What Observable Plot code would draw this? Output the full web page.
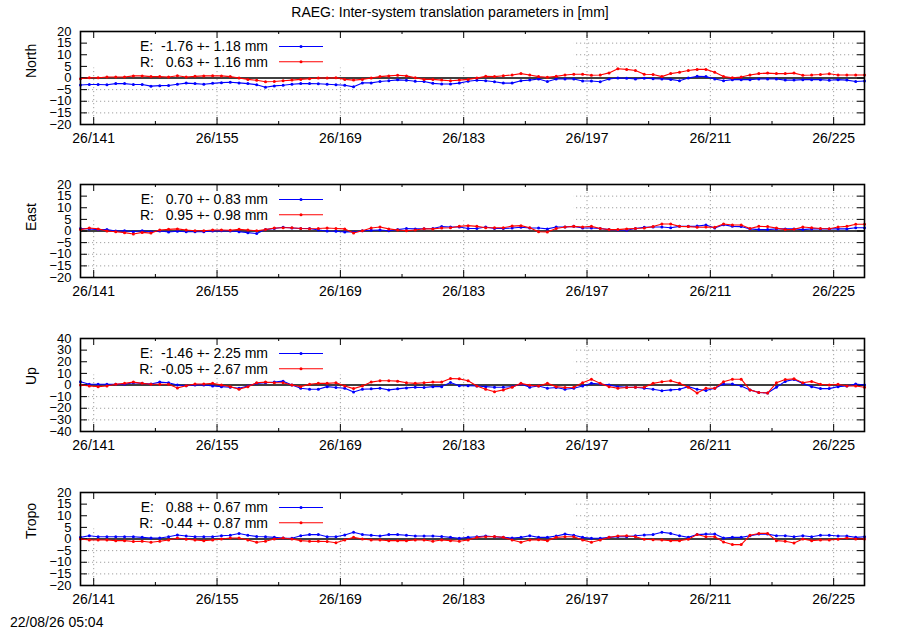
<!DOCTYPE html>
<html><head><meta charset="utf-8">
<script src="https://cdn.jsdelivr.net/npm/d3@7"></script>
<script src="https://cdn.jsdelivr.net/npm/@observablehq/plot@0.6"></script>
<style>
body{margin:0;background:#fff;font-family:"Liberation Sans",Arial,sans-serif;}
#wrap{position:relative;width:900px;height:630px;overflow:hidden;background:#fff;}
#title{position:absolute;top:4px;left:0;width:900px;text-align:center;font-size:14px;line-height:16px;color:#000;}
#foot{position:absolute;left:10px;top:614px;font-size:14px;line-height:16px;color:#000;}
.panel{position:absolute;left:0;}
svg text{white-space:pre;}
svg g[aria-label^="y-axis"]{font-size:13px;}
</style></head><body>
<div id="wrap">
<div id="title">RAEG: Inter-system translation parameters in [mm]</div>
<div id="foot">22/08/26 05:04</div>
</div>
<script>
const startDay = 139.5; // first epoch (day of year 2026, noon)
const xLabelTicks = [141, 155, 169, 183, 197, 211, 225];
const xMinorTicks = [148, 162, 176, 190, 204, 218];
const yTicks20 = [-20, -15, -10, -5, 0, 5, 10, 15, 20];
const yTicks40 = [-40, -30, -20, -10, 0, 10, 20, 30, 40];
const panelLabels = ["North", "East", "Up", "Tropo"];

const northE = [-3.0,-2.8,-2.8,-2.9,-2.4,-2.4,-2.8,-2.8,-3.5,-3.3,-3.2,-2.7,-2.2,-2.4,-2.7,-2.3,-2.0,-1.8,-2.1,-2.4,-2.9,-4.0,-3.4,-3.1,-2.7,-2.4,-2.4,-2.5,-2.7,-2.9,-3.1,-3.8,-2.1,-2.1,-1.5,-1.2,-0.8,-1.0,-1.4,-1.5,-2.3,-2.6,-2.6,-2.2,-1.4,
  -1.0,-1.2,-1.6,-2.2,-2.2,-1.2,-0.9,-0.4,-1.5,-0.4,-0.4,-0.4,-1.3,-1.3,-1.6,-0.4,0.0,-0.1,-0.4,-0.1,-0.3,-0.4,-0.6,-1.2,0.0,0.7,0.6,-0.4,-1.2,-0.7,-0.7,-0.7,-0.4,-0.4,-0.4,-0.9,-0.9,-0.7,-0.7,-0.7,-1.0,-0.7,-0.9,-1.5,-1.3];
const northR = [-0.3,0.1,0.1,0.4,0.4,0.4,0.9,0.9,0.6,0.6,0.4,1.0,0.4,0.7,0.9,1.0,0.9,0.6,0.0,-0.6,-1.0,-1.6,-1.5,-1.2,-0.9,-0.6,-0.3,0.0,0.0,0.1,-0.6,-0.9,-0.6,0.0,0.6,0.9,1.2,0.9,0.1,-0.6,-0.6,-0.9,-1.2,-0.9,-0.6,
  0.0,0.7,0.6,1.0,1.3,1.9,1.3,0.6,0.3,0.7,1.3,1.6,1.6,1.2,1.3,2.2,4.0,3.7,3.2,1.6,1.5,0.6,1.9,2.5,3.2,3.7,3.7,2.5,0.6,0.1,0.4,1.3,1.9,2.1,1.9,1.9,2.1,1.2,1.3,1.5,1.8,1.3,1.3,1.3,1.3];
const eastE = [1.1,0.9,0.6,0.6,0.0,0.1,-0.3,0.1,-0.3,0.0,-0.4,-0.1,-0.3,-0.3,-0.3,0.0,0.1,0.0,-0.3,-0.7,-1.1,0.6,1.1,1.6,1.3,1.1,1.1,0.4,0.0,-0.1,-0.4,-0.4,0.1,0.3,0.4,0.1,0.6,1.1,0.9,1.0,1.1,1.9,1.7,1.7,1.1,
  1.1,1.7,1.1,1.1,1.3,1.6,1.3,1.3,0.9,1.7,1.7,2.0,1.3,1.3,1.1,0.6,0.4,0.3,1.1,1.6,1.7,1.7,1.4,2.0,2.0,2.1,2.6,1.3,2.7,2.0,1.9,0.9,0.6,0.6,0.9,0.9,0.9,0.6,0.9,0.9,0.9,0.9,0.9,1.4,1.4];
const eastR = [0.6,1.3,0.9,0.0,-0.3,-0.7,-1.3,-0.6,-0.9,0.4,0.7,0.9,0.4,0.1,0.1,0.4,0.4,0.3,0.7,0.4,0.1,0.6,1.3,1.4,1.4,1.1,1.0,1.1,1.3,1.1,0.9,-0.9,0.1,1.3,1.7,0.9,0.4,0.1,0.4,1.0,0.9,1.3,1.4,2.0,2.3,
  2.0,1.4,1.4,1.4,2.1,2.3,1.4,-0.3,-0.4,1.1,1.7,2.0,1.7,2.0,1.1,0.6,0.6,0.9,1.1,1.3,1.9,3.0,3.0,2.0,1.9,1.6,1.7,1.6,3.0,2.6,2.6,1.1,2.0,1.9,1.3,0.6,0.7,1.7,1.4,1.1,1.0,1.7,2.0,2.9,2.9];
const upE = [2.8,0.6,0.6,0.6,0.6,0.6,1.9,1.4,0.8,2.5,1.9,0.0,-0.6,0.0,0.0,-0.8,-1.4,-1.9,-2.8,-0.8,1.4,1.9,2.5,3.3,0.0,-2.8,-3.6,-3.6,-1.4,-2.2,-2.8,-6.1,-3.6,-3.3,-2.8,-4.2,-3.3,-2.5,-1.9,-2.2,-1.4,-1.4,2.2,-0.6,-0.6,
  -0.8,-1.4,-1.9,-1.9,-1.4,0.8,-1.9,-0.8,-2.8,-2.2,-3.6,-2.8,-0.8,1.4,0.8,0.0,-1.4,-1.9,-1.9,-2.8,-3.6,-5.0,-4.2,-3.6,-1.4,-3.6,-4.7,-2.8,0.8,0.8,-0.8,-4.2,-6.4,-6.9,-1.9,3.1,4.7,1.4,-1.4,-3.1,-3.1,-1.4,-0.8,0.8,0.0];
const upR = [0.0,-0.8,-1.4,-0.8,0.6,1.4,2.5,1.4,0.6,0.6,0.6,-2.5,-0.6,0.8,0.8,1.4,0.0,-1.4,-3.6,-1.4,1.9,2.5,1.9,1.9,0.0,-1.4,0.6,1.4,1.4,1.9,-0.8,-3.1,-0.8,2.5,3.6,3.6,3.3,1.9,1.4,1.9,2.5,2.5,5.6,5.3,3.6,
  -0.8,-3.6,-5.8,-4.2,-1.9,1.4,-0.3,-0.8,1.4,-1.4,-2.2,-1.9,1.9,5.0,1.4,-1.4,-2.8,-2.2,-1.9,-1.9,1.4,2.8,3.6,1.4,-1.9,-6.9,-2.8,-2.8,2.8,5.0,5.0,-4.2,-6.4,-6.9,1.9,4.7,5.3,1.9,3.1,0.6,0.0,0.6,-0.8,-0.8,-1.9];
const tropoE = [0.7,1.4,1.0,1.0,1.0,1.0,1.0,0.7,0.4,0.4,1.0,1.7,1.3,1.0,1.0,1.0,1.4,1.6,2.4,1.6,1.1,1.0,0.7,0.4,0.3,1.4,1.9,1.9,1.0,1.0,1.7,2.9,1.9,1.6,1.3,1.9,1.9,1.6,1.3,1.3,1.3,1.1,0.7,0.3,0.7,
  1.0,1.3,1.0,0.7,0.4,0.7,1.4,0.7,0.7,1.3,2.1,1.6,0.7,0.3,0.3,0.7,1.0,1.0,1.4,1.7,1.9,2.9,2.4,1.4,0.7,1.9,2.1,2.1,0.4,0.7,0.7,1.4,2.1,2.1,1.4,1.4,1.0,1.4,1.0,1.6,1.6,1.3,1.3,0.7,1.0];
const tropoR = [0.0,-0.4,-0.4,-0.4,-0.7,-0.7,-1.1,-1.0,-1.4,-1.0,-0.4,0.4,-0.1,-0.4,-0.7,-0.4,0.0,0.4,0.4,-0.4,-1.4,-1.0,0.0,0.4,0.0,-0.7,-1.0,-1.0,-1.1,-1.6,-0.4,0.7,0.0,-0.4,-0.4,-0.7,-0.7,-0.7,-0.4,-0.4,-1.0,-0.4,-0.7,-1.0,-0.4,
  0.7,1.0,1.1,0.7,-0.4,-1.4,-0.4,-0.3,-0.7,0.7,1.0,1.0,-0.4,-1.4,-0.4,0.7,1.3,1.4,1.0,-0.1,-0.3,-0.4,-0.7,-0.7,-0.1,1.9,1.0,1.0,-1.3,-2.4,-2.4,1.6,2.4,2.4,-0.7,-1.0,-1.7,0.0,-0.7,-0.4,-0.4,-0.1,0.4,0.0,0.0];

const legendE = ["E:  -1.76 +- 1.18 mm", "E:   0.70 +- 0.83 mm", "E:  -1.46 +- 2.25 mm", "E:   0.88 +- 0.67 mm"];
const legendR = ["R:   0.63 +- 1.16 mm", "R:   0.95 +- 0.98 mm", "R:  -0.05 +- 2.67 mm", "R:  -0.44 +- 0.87 mm"];

const seriesE = [northE, eastE, upE, tropoE];
const seriesR = [northR, eastR, upR, tropoR];
const yTickSets = [yTicks20, yTicks20, yTicks40, yTicks20];

const days = northE.map((_, i) => startDay + i);

const W = 784, H = 93, MT = 10, ML = 80, MR = 36;
const FONT = "'Liberation Sans', Arial, sans-serif";
const wrap = document.getElementById("wrap");

for (let k = 0; k < 4; k++) {
  const yt = yTickSets[k];
  const ymax = d3.max(yt);
  const dE = days.map((d, i) => ({day: d, v: seriesE[k][i]}));
  const dR = days.map((d, i) => ({day: d, v: seriesR[k][i]}));
  const totalH = k < 3 ? 154 : 128;
  const grid = {stroke: "#a0a0a0", strokeDasharray: "1.2,2.8", strokeWidth: 1};
  const svg = Plot.plot({
    width: 900, height: totalH,
    marginLeft: ML, marginRight: MR, marginTop: MT, marginBottom: totalH - MT - H,
    style: {fontFamily: FONT, fontSize: "14px", background: "transparent", color: "black", overflow: "visible"},
    x: {domain: [days[0], days[days.length - 1]], ticks: xLabelTicks, tickFormat: d => `26/${d}`, tickSize: 0, tickPadding: 9, label: null},
    y: {domain: [-ymax, ymax], ticks: yt, tickSize: 0, tickPadding: 9, label: null},
    marks: [
      Plot.ruleY(yt.filter(t => t !== 0 && Math.abs(t) !== ymax), grid),
      Plot.ruleX(xLabelTicks, grid),
      Plot.frame({fill: "white", stroke: "none", insetRight: 291, insetBottom: H - 36}),
      Plot.ruleY([0], {stroke: "black", strokeWidth: 1.6}),
      Plot.tickX(xLabelTicks, {x: d => d, insetTop: H - 7, stroke: "black"}),
      Plot.tickX(xLabelTicks, {x: d => d, insetBottom: H - 7, stroke: "black"}),
      Plot.tickX(xMinorTicks, {x: d => d, insetTop: H - 3, stroke: "black"}),
      Plot.tickX(xMinorTicks, {x: d => d, insetBottom: H - 3, stroke: "black"}),
      Plot.tickY(yt, {y: d => d, insetRight: W - 7, stroke: "black"}),
      Plot.tickY(yt, {y: d => d, insetLeft: W - 7, stroke: "black"}),
      Plot.line(dE, {x: "day", y: "v", stroke: "#0000ff", strokeWidth: 1.1}),
      Plot.dot(dE, {x: "day", y: "v", fill: "#0000ff", r: 1.5, stroke: "none"}),
      Plot.line(dR, {x: "day", y: "v", stroke: "#ff0000", strokeWidth: 1.1}),
      Plot.dot(dR, {x: "day", y: "v", fill: "#ff0000", r: 1.5, stroke: "none"}),
      Plot.frame({stroke: "black", strokeWidth: 1.6}),
      Plot.text([panelLabels[k]], {frameAnchor: "left", dx: -49, rotate: -90, text: d => d, fontSize: 14, fill: "black"})
    ]
  });
  // legend (key)
  const g = d3.select(svg).append("g").attr("font-family", FONT).attr("font-size", 14);
  const rows = [[legendE[k], "#0000ff"], [legendR[k], "#ff0000"]];
  rows.forEach(([txt, col], j) => {
    const yy = MT + 15.5 + j * 15.3;
    g.append("text").attr("x", 268).attr("y", yy).attr("dy", "0.35em").attr("text-anchor", "end").attr("fill", "black").style("white-space", "pre").text(txt);
    g.append("line").attr("x1", 279).attr("x2", 323).attr("y1", yy).attr("y2", yy).attr("stroke", col).attr("stroke-width", 1.1);
    g.append("circle").attr("cx", 301).attr("cy", yy).attr("r", 1.5).attr("fill", col);
  });
  const div = document.createElement("div");
  div.className = "panel";
  div.style.top = (20.5 + k * 153.8) + "px";
  div.appendChild(svg);
  wrap.appendChild(div);
}
</script>
</body></html>
